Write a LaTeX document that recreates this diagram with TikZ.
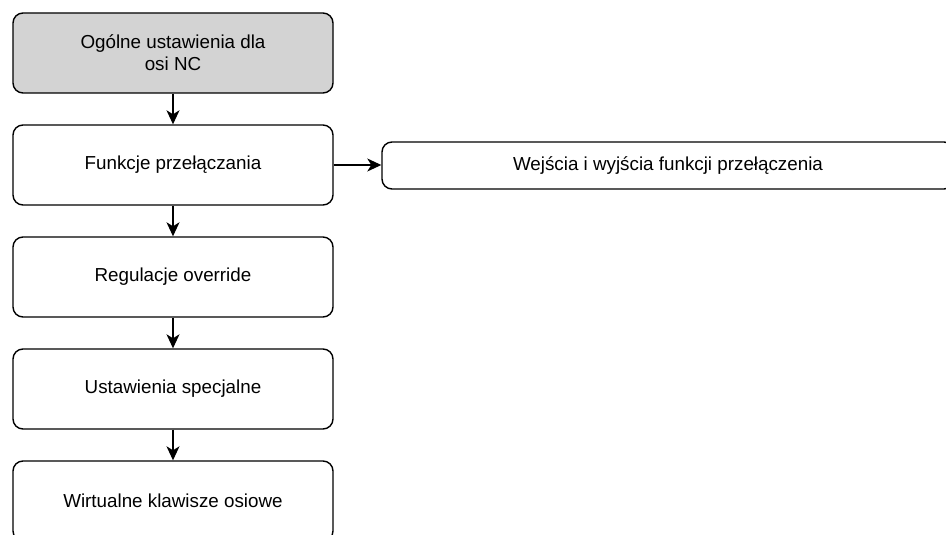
\documentclass[tikz,border=0pt]{standalone}
\usepackage{fontspec}
\setmainfont{Liberation Sans}
\usetikzlibrary{arrows.meta}
\begin{document}
\begin{tikzpicture}[x=1pt,y=-1pt,
  box/.style={draw=black,line width=1.4pt,rounded corners=10pt,fill=white,
    minimum width=320pt,minimum height=80pt,align=center,inner sep=0pt,
    font=\fontsize{18.8}{22}\selectfont},
  wide/.style={box,minimum width=572pt,minimum height=47pt},
  arr/.style={line width=1.4pt,-{Stealth[length=14pt,width=13pt,inset=4pt]}}]
\clip (0,0) rectangle (946,535);
\fill[white] (0,0) rectangle (946,535);
\node[box,fill={rgb,255:red,211;green,211;blue,211}] (a) at (173,53) {Ogólne ustawienia dla\\osi NC};
\node[box] (b) at (173,165) {Funkcje przełączania};
\node[box] (c) at (173,277) {Regulacje override};
\node[box] (d) at (173,389) {Ustawienia specjalne};
\node[box] (e) at (173,501) {Wirtualne klawisze osiowe};
\node[wide] (f) at (668,165.5) {Wejścia i wyjścia funkcji przełączenia};
\draw[arr] (a) -- (b);
\draw[arr] (b) -- (c);
\draw[arr] (c) -- (d);
\draw[arr] (d) -- (e);
\draw[arr] (b.east) -- (f.west |- b.east);
\end{tikzpicture}
\end{document}
